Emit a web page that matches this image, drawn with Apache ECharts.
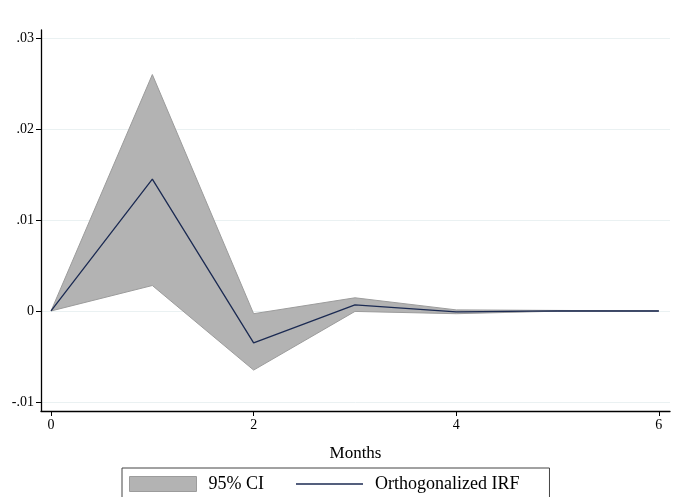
<!DOCTYPE html>
<html>
<head>
<meta charset="utf-8">
<script src="https://cdn.jsdelivr.net/npm/echarts@6/dist/echarts.min.js"></script>
<style>
  html, body { margin: 0; padding: 0; background: #fff; }
  #chart { width: 681px; height: 497px; }
</style>
</head>
<body>
<div id="chart"></div>
<script>
// Impulse response over months with its 95% confidence band
const months = [0, 1, 2, 3, 4, 5, 6];
const irf    = [0, 0.0145, -0.0035, 0.00068, -0.0001, 0.00002, 0];
const ciLow  = [0, 0.0028, -0.0065, -0.00005, -0.0003, -0.00002, 0];
const ciHigh = [0, 0.0260, -0.0003, 0.00145, 0.00012, 0.00006, 0];

const xTicks = [0, 2, 4, 6];
const yTicks = [-0.01, 0, 0.01, 0.02, 0.03];

const serif = 'Liberation Serif';
const bandFill = '#b3b3b3';
const bandEdge = '#9c9c9c';
const lineColor = '#1b2a52';

// Stata-style labels: ".03", "-.01", "0"
function fmtY(v) {
  const r = Math.round(v * 1000) / 1000;
  if (r === 0) return '0';
  return String(r).replace('0.', '.');
}

const chart = echarts.init(document.getElementById('chart'), null, { renderer: 'canvas' });

chart.setOption({
  animation: false,
  backgroundColor: '#ffffff',
  grid: { left: 41, right: 11, top: 30, bottom: 86, containLabel: false },
  xAxis: {
    type: 'value',
    min: -0.099,
    max: 6.11,
    name: 'Months',
    nameLocation: 'middle',
    nameGap: 34,
    nameTextStyle: { fontFamily: serif, fontSize: 17, color: '#000' },
    axisLine: { onZero: false, lineStyle: { color: '#000', width: 1.3 } },
    axisTick: { customValues: xTicks, length: 5, lineStyle: { color: '#000' } },
    axisLabel: { customValues: xTicks, fontFamily: serif, fontSize: 14, color: '#000', margin: 7 },
    splitLine: { show: false }
  },
  yAxis: {
    type: 'value',
    min: -0.011,
    max: 0.0309,
    axisLine: { show: true, onZero: false, lineStyle: { color: '#000', width: 1.3 } },
    axisTick: { customValues: yTicks, length: 5, lineStyle: { color: '#000' } },
    axisLabel: { customValues: yTicks, formatter: fmtY, fontFamily: serif, fontSize: 14, color: '#000', margin: 7 },
    splitLine: { show: false }
  },
  legend: {
    left: 122,
    top: 468,
    orient: 'horizontal',
    itemWidth: 67,
    itemHeight: 15,
    itemGap: 32,
    padding: [7, 30, 30, 7],
    borderColor: '#444',
    borderWidth: 1,
    textStyle: { fontFamily: serif, fontSize: 18, color: '#000', padding: [0, 0, 0, 7] },
    data: [
      { name: '95% CI', icon: 'rect', itemStyle: { color: bandFill, borderColor: bandEdge, borderWidth: 1 } },
      { name: 'Orthogonalized IRF', icon: 'path://M0,0 L1,0 L1,0.02 L0,0.02 Z', itemStyle: { color: lineColor } }
    ]
  },
  series: [
    {
      name: '95% CI',
      type: 'custom',
      coordinateSystem: 'cartesian2d',
      itemStyle: { color: bandFill },
      data: [[0, 0]],
      z: 1,
      renderItem: function (params, api) {
        const top = months.map((m, i) => api.coord([m, ciHigh[i]]));
        const bottom = months.map((m, i) => api.coord([m, ciLow[i]])).reverse();
        return {
          type: 'polygon',
          shape: { points: top.concat(bottom) },
          style: { fill: bandFill, stroke: bandEdge, lineWidth: 1 }
        };
      }
    },
    {
      name: 'Orthogonalized IRF',
      type: 'line',
      data: months.map((m, i) => [m, irf[i]]),
      showSymbol: false,
      symbol: 'none',
      z: 3,
      lineStyle: { color: lineColor, width: 1.3 },
      itemStyle: { color: lineColor },
      markLine: {
        silent: true,
        symbol: 'none',
        label: { show: false },
        z: 0,
        lineStyle: { color: '#eaf1f2', width: 1, type: 'solid' },
        data: yTicks.map(v => ({ yAxis: v }))
      }
    }
  ]
});
</script>
</body>
</html>
